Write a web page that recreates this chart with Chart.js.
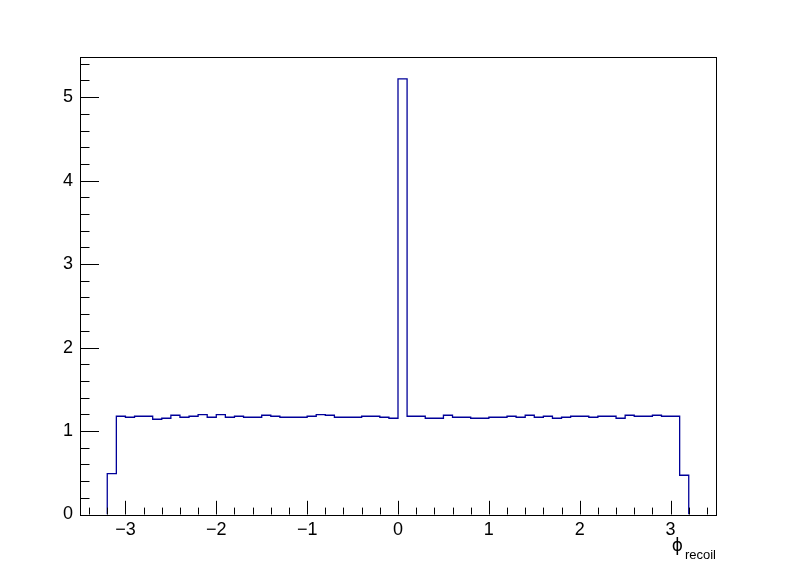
<!DOCTYPE html>
<html>
<head>
<meta charset="utf-8">
<script src="https://cdn.jsdelivr.net/npm/chart.js@4"></script>
<style>
  html, body { margin: 0; padding: 0; background: #fff; }
  #wrap { width: 796px; height: 572px; }
</style>
</head>
<body>
<div id="wrap"><canvas id="phiChart" width="796" height="572"></canvas></div>
<script>
// histogram of phi_recoil, 64 bins from -3.2 to 3.2
const binLow = -3.2;
const binWidth = 0.1;
const binValues = [
  0.49, 1.177, 1.165, 1.177, 1.177, 1.141, 1.153, 1.189, 1.165, 1.177, 1.197, 1.165, 1.197, 1.165, 1.177, 1.165,
  1.165, 1.189, 1.177, 1.165, 1.165, 1.165, 1.177, 1.197, 1.189, 1.165, 1.165, 1.165, 1.177, 1.177, 1.165, 1.153,
  5.22, 1.177, 1.177, 1.153, 1.153, 1.189, 1.165, 1.165, 1.153, 1.153, 1.165, 1.165, 1.177, 1.165, 1.189, 1.165,
  1.177, 1.153, 1.165, 1.177, 1.177, 1.165, 1.177, 1.177, 1.153, 1.189, 1.177, 1.177, 1.189, 1.177, 1.177, 0.47
];
const xTicks = [-3, -2, -1, 0, 1, 2, 3];
const yTicks = [0, 1, 2, 3, 4, 5];
const xRange = [-3.5, 3.5];
const yRange = [0, 5.481];

const FONT = "'Liberation Sans', Arial, Helvetica, sans-serif";

// step outline points: start at 0, walk the bin edges, come back to 0
const points = [{ x: binLow, y: 0 }];
binValues.forEach((v, i) => points.push({ x: binLow + i * binWidth, y: v }));
const binHigh = binLow + binValues.length * binWidth;
points.push({ x: binHigh, y: binValues[binValues.length - 1] });
points.push({ x: binHigh, y: 0 });

function minus(v) {
  return v < 0 ? '\u2212' + Math.abs(v) : String(v);
}

// ROOT style frame + inward ticks + axis title
const rootFrame = {
  id: 'rootFrame',
  afterDraw(chart) {
    const ctx = chart.ctx;
    const a = chart.chartArea;
    const xs = chart.scales.x;
    const ys = chart.scales.y;
    ctx.save();
    ctx.strokeStyle = '#000';
    ctx.lineWidth = 1;
    ctx.strokeRect(Math.round(a.left) + 0.5, Math.round(a.top) + 0.5,
      Math.round(a.right - a.left), Math.round(a.bottom - a.top));

    ctx.beginPath();
    // x ticks, every 0.2, major on integers
    for (let i = -17; i <= 17; i++) {
      const v = i * 0.2;
      const px = Math.round(xs.getPixelForValue(v)) + 0.5;
      const major = Math.abs(v - Math.round(v)) < 1e-6;
      const len = major ? 13.7 : 6.9;
      ctx.moveTo(px, a.bottom);
      ctx.lineTo(px, a.bottom - len);
    }
    // y ticks
    for (let i = 0; i <= 27; i++) {
      const v = i * 0.2;
      const py = Math.round(ys.getPixelForValue(v)) + 0.5;
      const major = Math.abs(v - Math.round(v)) < 1e-6;
      const len = major ? 19 : 9.5;
      ctx.moveTo(a.left, py);
      ctx.lineTo(a.left + len, py);
    }
    ctx.stroke();

    // axis title phi_recoil
    ctx.fillStyle = '#000';
    ctx.textAlign = 'right';
    ctx.textBaseline = 'alphabetic';
    ctx.font = '13px ' + FONT;
    ctx.fillText('recoil', a.right, 559);
    const subW = ctx.measureText('recoil').width;
    ctx.font = "17px 'DejaVu Sans', " + FONT;
    ctx.fillText('\u03d5', a.right - subW - 2, 551);
    ctx.restore();
  }
};

const config = {
  type: 'line',
  data: {
    datasets: [{
      data: points,
      stepped: 'before',
      borderColor: '#000099',
      borderWidth: 1.3,
      pointRadius: 0,
      fill: false,
      tension: 0
    }]
  },
  options: {
    responsive: false,
    animation: false,
    layout: { padding: { top: 57, right: 80, left: 0, bottom: 0 } },
    plugins: {
      legend: { display: false },
      tooltip: { enabled: false },
      title: { display: false }
    },
    scales: {
      x: {
        type: 'linear',
        min: xRange[0],
        max: xRange[1],
        grid: { display: false, drawTicks: false },
        border: { display: false },
        afterFit(scale) { scale.height = 57.5; },
        afterBuildTicks(scale) { scale.ticks = xTicks.map(v => ({ value: v })); },
        ticks: {
          padding: 5,
          color: '#000',
          font: { family: FONT, size: 18 },
          maxRotation: 0,
          autoSkip: false,
          callback: v => minus(v)
        }
      },
      y: {
        type: 'linear',
        min: yRange[0],
        max: yRange[1],
        grid: { display: false, drawTicks: false },
        border: { display: false },
        afterFit(scale) { scale.width = 80; },
        afterBuildTicks(scale) { scale.ticks = yTicks.map(v => ({ value: v })); },
        ticks: {
          padding: 7,
          color: '#000',
          font: { family: FONT, size: 18 },
          callback: v => minus(v)
        }
      }
    }
  },
  plugins: [rootFrame]
};

new Chart('phiChart', config);
</script>
</body>
</html>
